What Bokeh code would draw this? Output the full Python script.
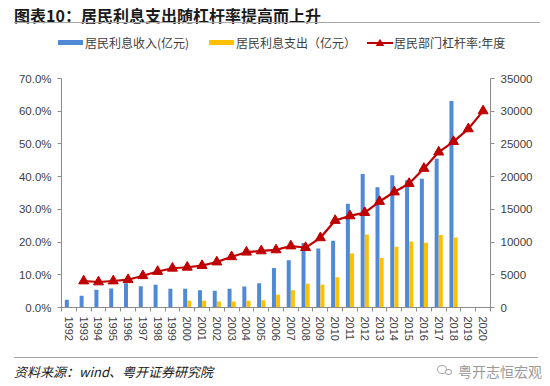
import math
from bokeh.plotting import figure
from bokeh.layouts import column
from bokeh.models import (ColumnDataSource, LinearAxis, Range1d, FixedTicker, Div,
                          PrintfTickFormatter)
from bokeh.transform import dodge
from bokeh.embed import file_html
from bokeh.resources import INLINE

years = [str(y) for y in range(1992, 2021)]
nan = float("nan")
income = [1170, 1790, 2700, 2910, 3720, 3260, 3470, 2860, 2860, 2650, 2550, 2860, 3210, 3720,
          6020, 7240, 9850, 9030, 10200, 15870, 20410, 18370, 20200, 19440, 19690, 22740, 31580, nan, nan]
expense = [nan, nan, nan, nan, nan, nan, nan, nan, 1020, 1020, 920, 920, 1020, 1120,
           1940, 2650, 3620, 3470, 4640, 8270, 11170, 7550, 9290, 10100, 9900, 11070, 10710, nan, nan]
leverage = [nan, 8.1, 7.8, 8.1, 8.5, 9.7, 11.0, 12.0, 12.3, 12.8, 13.9, 15.5, 16.9, 17.3,
            17.6, 18.8, 18.3, 21.3, 26.6, 28.0, 29.0, 32.4, 35.3, 37.9, 42.5, 47.5, 50.7, 54.6, 60.1]
left_ticks = [0, 10, 20, 30, 40, 50, 60, 70]
right_ticks = [0, 5000, 10000, 15000, 20000, 25000, 30000, 35000]
series_names = ["居民利息收入(亿元)", "居民利息支出（亿元）", "居民部门杠杆率:年度"]
title_text = "图表10：居民利息支出随杠杆率提高而上升"
source_text = "资料来源：wind、粤开证券研究院"
mark_text = "粤开志恒宏观"

CJK = "'Noto Sans CJK SC'"
NUM = "Liberation Sans"
BLUE = "#5089D6"
YELLOW = "#FFC000"
RED = "#C00000"
AXC = "#8C8C8C"
TXT = "#404040"
W = 550

# ---------- header (title + legend) ----------
HH = 70


def txt(left, cy, s, size, extra=""):
    lh = size + 6
    return (f'<div style="position:absolute;left:{left}px;top:{cy - lh / 2}px;'
            f'line-height:{lh}px;font-size:{size}px;white-space:nowrap;{extra}">{s}</div>')


def box(left, top, w, h, extra):
    return (f'<div style="position:absolute;left:{left}px;top:{top}px;width:{w}px;'
            f'height:{h}px;{extra}"></div>')


head_html = (
    f'<div style="position:relative;width:{W}px;height:{HH}px;font-family:{CJK};">'
    + txt(14, 15, title_text, 16, "font-weight:bold;color:#1a1a1a;")
    + box(14, 22, 526, 0, "border-top:1px solid #A6A6A6;")
    + box(58, 40, 25, 5, f"background:{BLUE};")
    + txt(85, 43, series_names[0], 12, f"color:{TXT};")
    + box(209, 40, 25, 5, f"background:{YELLOW};")
    + txt(236, 43, series_names[1], 12, f"color:{TXT};")
    + box(367, 42, 26, 2, f"background:{RED};")
    + txt(375.5, 42, "▲", 9, f"color:{RED};")
    + txt(394, 43, series_names[2], 12, f"color:{TXT};")
    + '</div>'
)
head = Div(text=head_html, width=W, height=HH, margin=0)

# ---------- main chart ----------
idx = list(range(len(years)))
src = ColumnDataSource(dict(x=idx, income=income, expense=expense, lev=leverage))

p = figure(width=W, height=275, output_backend="svg", toolbar_location=None,
           x_range=Range1d(-0.5, len(years) - 0.5), y_range=Range1d(0, 70),
           min_border_left=61, min_border_right=60, min_border_top=8, min_border_bottom=38)
p.outline_line_color = None
p.grid.visible = False
p.background_fill_color = "white"
p.border_fill_color = "white"
p.extra_y_ranges = {"amt": Range1d(0, 35000)}

p.vbar(x=dodge("x", -0.14), top="income", width=0.27, source=src, y_range_name="amt",
       fill_color=BLUE, line_color=None)
p.vbar(x=dodge("x", 0.14), top="expense", width=0.27, source=src, y_range_name="amt",
       fill_color=YELLOW, line_color=None)
p.line(x="x", y="lev", source=src, line_color=RED, line_width=2.2)
p.scatter(x="x", y="lev", source=src, marker="triangle", size=10, fill_color=RED, line_color=RED)

xa = p.xaxis[0]
xa.ticker = FixedTicker(ticks=idx, minor_ticks=[i - 0.5 for i in range(len(years) + 1)])
xa.major_label_overrides = {i: y for i, y in enumerate(years)}
xa.major_label_orientation = -math.pi / 2
xa.major_tick_out = 0
xa.major_tick_in = 0
xa.minor_tick_out = 4
xa.minor_tick_in = 0
xa.minor_tick_line_color = AXC
xa.axis_line_color = AXC
xa.major_label_text_font = NUM
xa.major_label_text_font_size = "11px"
xa.major_label_text_color = TXT
xa.major_label_standoff = 5

ya = p.yaxis[0]
ya.ticker = FixedTicker(ticks=left_ticks)
ya.formatter = PrintfTickFormatter(format="%.1f%%")
ya.minor_tick_line_color = None
ya.major_tick_out = 4
ya.major_tick_in = 0
ya.major_tick_line_color = AXC
ya.axis_line_color = AXC
ya.major_label_text_font = NUM
ya.major_label_text_font_size = "11.5px"
ya.major_label_text_color = TXT
ya.major_label_standoff = 6

ra = LinearAxis(y_range_name="amt", ticker=FixedTicker(ticks=right_ticks))
ra.minor_tick_line_color = None
ra.major_tick_out = 4
ra.major_tick_in = 0
ra.major_tick_line_color = AXC
ra.axis_line_color = AXC
ra.major_label_text_font = NUM
ra.major_label_text_font_size = "11.5px"
ra.major_label_text_color = TXT
ra.major_label_standoff = 6
p.add_layout(ra, "right")

# ---------- footer ----------
FH = 41
foot_html = (
    f'<div style="position:relative;width:{W}px;height:{FH}px;font-family:{CJK};">'
    + box(14, 12, 524, 0, "border-top:1px solid #A6A6A6;")
    + txt(14, 26, source_text, 13, "font-style:italic;color:#1a1a1a;")
    + box(437, 20, 10, 9, "border:1px solid #A8A8A8;border-radius:50%;")
    + box(445, 24, 7, 6, "border:1px solid #A8A8A8;border-radius:50%;background:white;")
    + txt(458, 26, mark_text, 14, "color:#9A9A9A;")
    + '</div>'
)
foot = Div(text=foot_html, width=W, height=FH, margin=0)

layout = column(head, p, foot, spacing=0)
open("out.html", "w").write(file_html(layout, INLINE))
